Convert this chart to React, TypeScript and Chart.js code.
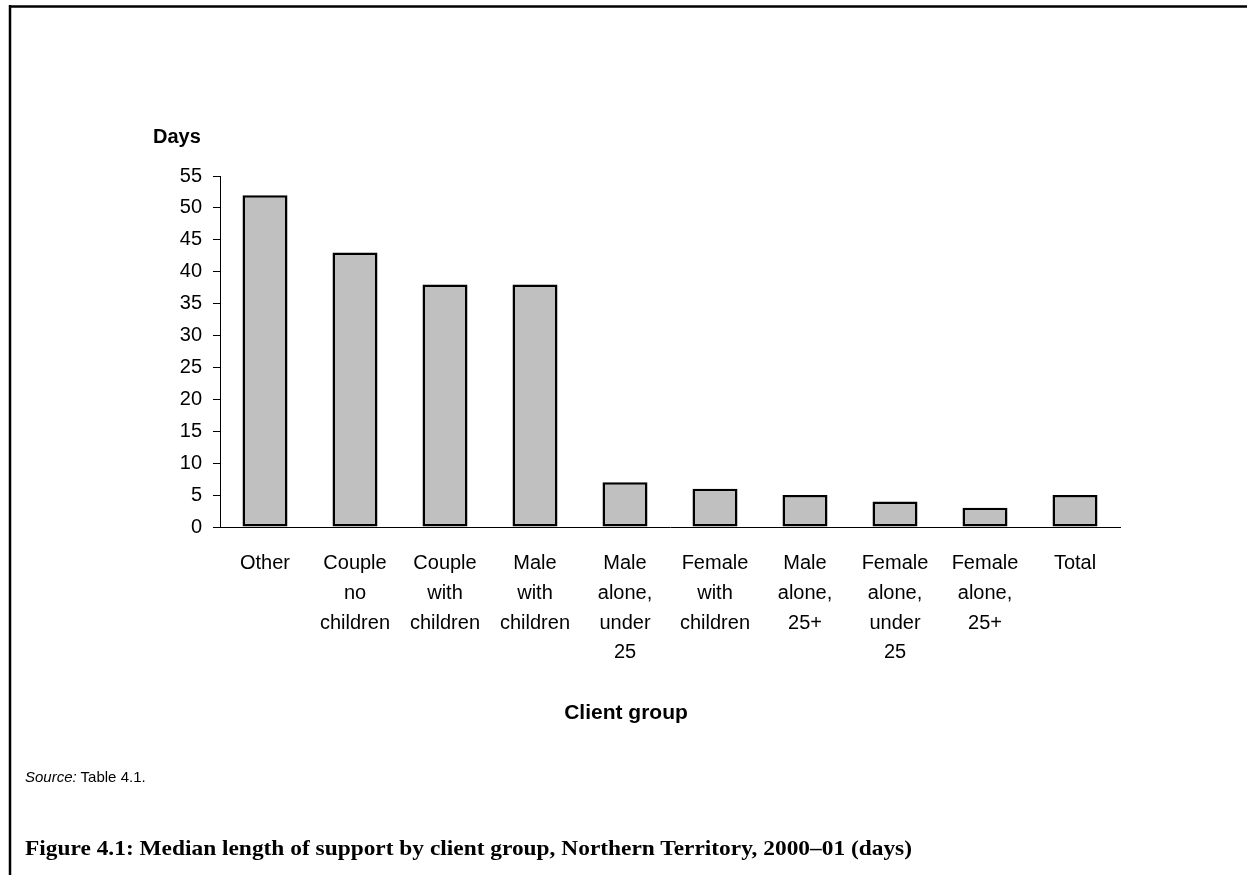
import React, { useEffect, useRef } from "react";
import { Chart, registerables } from "chart.js";

Chart.register(...registerables);

// Client groups, one entry per bar (each inner array is a multi-line label)
const clientGroups: string[][] = [
  ["Other"],
  ["Couple", "no", "children"],
  ["Couple", "with", "children"],
  ["Male", "with", "children"],
  ["Male", "alone,", "under", "25"],
  ["Female", "with", "children"],
  ["Male", "alone,", "25+"],
  ["Female", "alone,", "under", "25"],
  ["Female", "alone,", "25+"],
  ["Total"],
];

// Median length of support, in days
const medianDays: number[] = [52, 43, 38, 38, 7, 6, 5, 4, 3, 5];

// Value-axis tick labels
const dayTicks: number[] = [0, 5, 10, 15, 20, 25, 30, 35, 40, 45, 50, 55];

const yAxisTitle = "Days";
const xAxisTitle = "Client group";
const sourceLabel = "Source:";
const sourceText = " Table 4.1.";
const captionText =
  "Figure 4.1: Median length of support by client group, Northern Territory, 2000\u201301 (days)";

const SANS = "'Liberation Sans', Arial, Helvetica, sans-serif";
const SERIF = "'Liberation Serif', 'Times New Roman', serif";

export default function App() {
  const canvasRef = useRef<HTMLCanvasElement | null>(null);

  useEffect(() => {
    const canvas = canvasRef.current;
    if (!canvas) return;
    const chart = new Chart(canvas, {
      type: "bar",
      data: {
        labels: clientGroups,
        datasets: [
          {
            data: medianDays,
            backgroundColor: "#c0c0c0",
            borderColor: "#000000",
            borderWidth: 2.5,
            borderSkipped: false,
            categoryPercentage: 1,
            barPercentage: 0.5,
          },
        ],
      },
      options: {
        responsive: false,
        animation: false,
        devicePixelRatio: 1,
        layout: { padding: { left: 0, right: 27, top: 26, bottom: 0 } },
        plugins: {
          legend: { display: false },
          tooltip: { enabled: false },
          title: { display: false },
        },
        scales: {
          x: {
            grid: { display: false, drawTicks: false },
            border: { display: true, color: "#000000", width: 1 },
            ticks: {
              color: "#000000",
              font: { family: SANS, size: 20, lineHeight: 1.48 },
              padding: 22,
              maxRotation: 0,
              minRotation: 0,
              autoSkip: false,
            },
            afterFit: (scale: any) => {
              scale.height = 183;
            },
          },
          y: {
            min: 0,
            max: 55,
            afterBuildTicks: (scale: any) => {
              scale.ticks = dayTicks.map((v) => ({ value: v }));
            },
            ticks: {
              color: "#000000",
              font: { family: SANS, size: 20 },
              padding: 11,
            },
            grid: {
              drawOnChartArea: false,
              drawTicks: true,
              tickLength: 7,
              color: "#000000",
              lineWidth: 1,
            },
            border: { display: true, color: "#000000", width: 1 },
            afterFit: (scale: any) => {
              scale.width = 120;
            },
          },
        },
      },
    });
    return () => chart.destroy();
  }, []);

  return (
    <div
      style={{
        position: "absolute",
        left: 0,
        top: 0,
        width: 1247,
        height: 875,
        background: "#ffffff",
        overflow: "hidden",
      }}
    >
      <canvas
        ref={canvasRef}
        width={1047}
        height={560}
        style={{ position: "absolute", left: 100, top: 150, width: 1047, height: 560 }}
      />
      <svg
        width={1247}
        height={875}
        style={{ position: "absolute", left: 0, top: 0, pointerEvents: "none" }}
      >
        {/* frame: top and left rules */}
        <line x1={9} y1={6.5} x2={1247} y2={6.5} stroke="#000" strokeWidth={2.5} />
        <line x1={10} y1={5} x2={10} y2={875} stroke="#000" strokeWidth={2.5} />
        <text x={153} y={143} fontFamily={SANS} fontSize={20} fontWeight="bold" fill="#000">
          {yAxisTitle}
        </text>
        <text
          x={626}
          y={719}
          fontFamily={SANS}
          fontSize={21}
          fontWeight="bold"
          fill="#000"
          textAnchor="middle"
        >
          {xAxisTitle}
        </text>
        <text x={25} y={782} fontFamily={SANS} fontSize={15} fill="#000">
          <tspan fontStyle="italic">{sourceLabel}</tspan>
          <tspan>{sourceText}</tspan>
        </text>
        <text
          x={25}
          y={855}
          fontFamily={SERIF}
          fontSize={22}
          fontWeight="bold"
          fill="#000"
          textLength={887}
          lengthAdjust="spacingAndGlyphs"
        >
          {captionText}
        </text>
      </svg>
    </div>
  );
}
